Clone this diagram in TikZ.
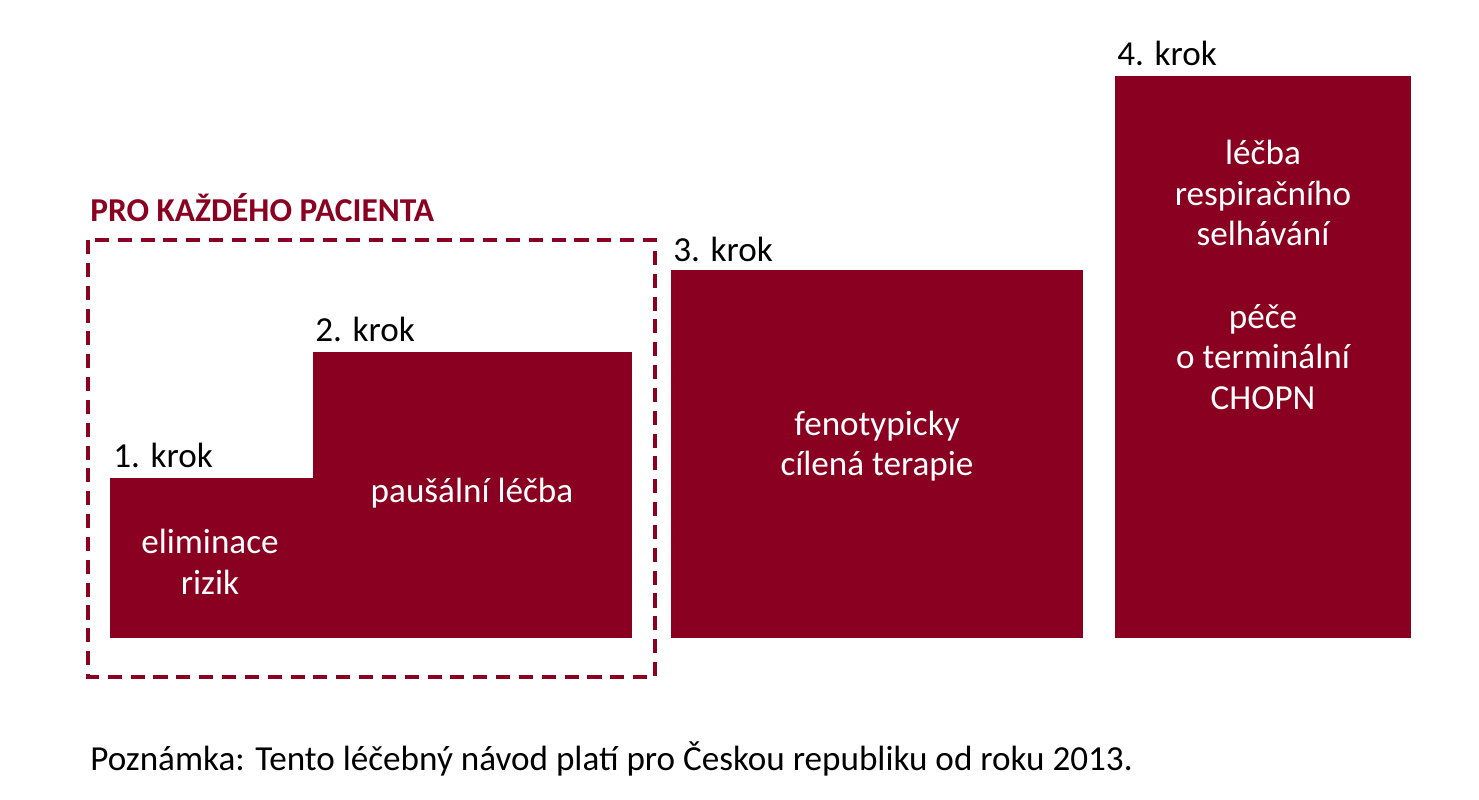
\documentclass[tikz,border=0pt]{standalone}
\usepackage{fontspec}
\setmainfont{Carlito}
\usepackage{tikz}
\definecolor{krokred}{HTML}{8A0020}
\begin{document}
\begin{tikzpicture}[x=0.02cm,y=-0.02cm,
  krokbox/.style={fill=krokred,draw=none},
  kroklabel/.style={anchor=south west,inner sep=0pt,font=\fontsize{20}{24}\selectfont},
  boxtext/.style={text=white,align=center,font=\fontsize{20}{23}\selectfont}]
\useasboundingbox (0,0) rectangle (1479,800);
% steps
\fill[krokbox] (110,478) rectangle (314,638);
\fill[krokbox] (313,352) rectangle (632,638);
\fill[krokbox] (671,270) rectangle (1083,638);
\fill[krokbox] (1115,76) rectangle (1411,638);
\draw[krokred,line width=2.2pt,dash pattern=on 8pt off 5pt] (88,240) rectangle (655,677);
% labels
\node[kroklabel,text=krokred,font=\fontsize{19}{22}\selectfont\bfseries] (pro) at (90,222) {PRO KAŽDÉHO PACIENTA};
\node[kroklabel] (k1) at (113,468) {1. krok};
\node[kroklabel] (k2) at (315,342) {2. krok};
\node[kroklabel] (k3) at (673,262) {3. krok};
\node[kroklabel] (k4) at (1117,66) {4. krok};
% texts
\node[boxtext] (t1) at (210,562) {eliminace\\rizik};
\node[boxtext] (t2) at (472,493) {paušální léčba};
\node[boxtext] (t3) at (877,446) {fenotypicky\\cílená terapie};
\node[boxtext] (t4) at (1263,275) {léčba\\respiračního\\selhávání\\[1.2em]péče\\o terminální\\CHOPN};
\node[kroklabel] (note) at (90,777) {Poznámka: Tento léčebný návod platí pro Českou republiku od roku 2013.};
\end{tikzpicture}
\end{document}
